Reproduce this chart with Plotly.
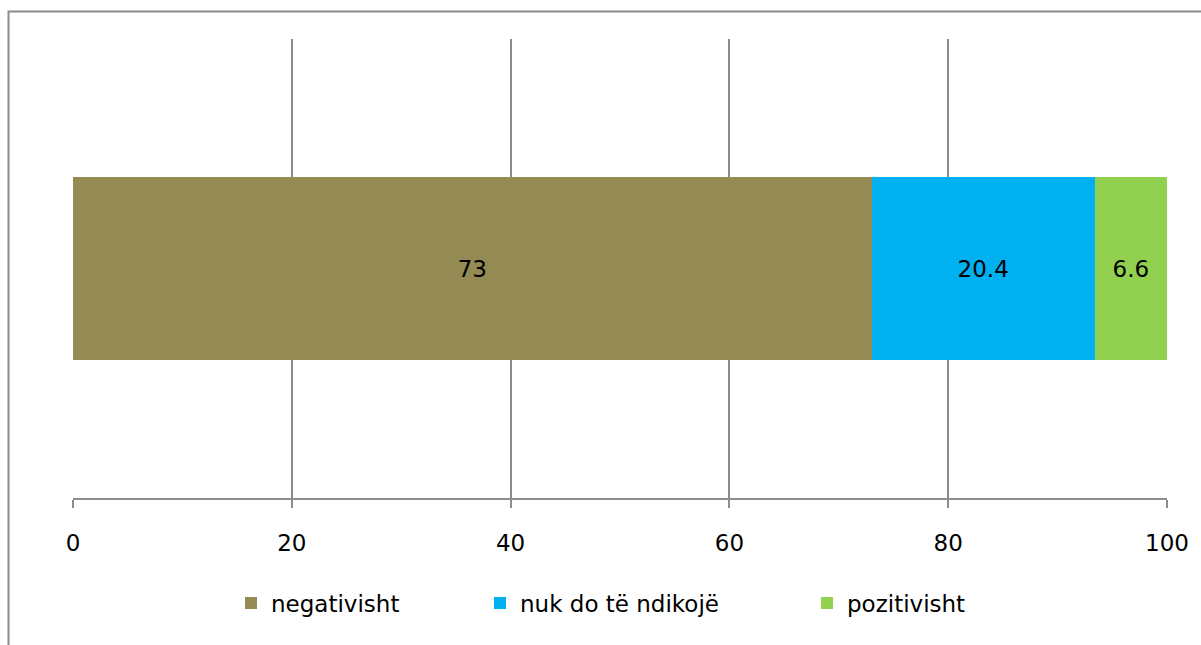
import plotly.graph_objects as go

categories = [""]
series_names = ["negativisht", "nuk do të ndikojë", "pozitivisht"]
negativisht = [73]
nuk_do = [20.4]
pozitivisht = [6.6]
colors = ["#948A54", "#00B0F0", "#92D050"]
tick_vals = [0, 20, 40, 60, 80, 100]

FONT = "'DejaVu Sans', sans-serif"
FS = 23

W, H = 1201, 645
L, R, T, B = 73, 34, 39, 147
pw, ph = W - L - R, H - T - B

# legend text start positions (px) for each entry
legend_text_px = [269, 518, 845]

fig = go.Figure()
for i, (name, vals, col) in enumerate(zip(series_names, [negativisht, nuk_do, pozitivisht], colors)):
    fig.add_trace(go.Bar(
        y=categories, x=vals, name=name, orientation="h",
        marker=dict(color=col, line=dict(width=0)),
        width=0.4,
        text=[str(v) for v in vals], textposition="inside",
        insidetextanchor="middle",
        textfont=dict(color="black", size=FS, family=FONT),
        legend="legend" if i == 0 else f"legend{i+1}",
    ))

legends = {}
for i, tx in enumerate(legend_text_px):
    key = "legend" if i == 0 else f"legend{i+1}"
    legends[key] = dict(orientation="h", x=(tx - 38 - L) / pw, xanchor="left",
                        y=(498 - 603) / ph, yanchor="middle",
                        font=dict(size=FS, family=FONT, color="black"),
                        bgcolor="rgba(0,0,0,0)")

fig.update_layout(
    width=W, height=H,
    barmode="stack",
    margin=dict(l=L, r=R, t=T, b=B),
    plot_bgcolor="white", paper_bgcolor="white",
    font=dict(family=FONT, size=FS, color="black"),
    xaxis=dict(range=[0, 100], tickvals=tick_vals, showgrid=True,
               gridcolor="#8C8C8C", gridwidth=1.5, showline=True,
               linecolor="#8C8C8C", linewidth=1.5, ticks="outside",
               ticklen=8, tickcolor="#8C8C8C", tickwidth=1.5,
               tickfont=dict(size=FS), zeroline=False,
               ticklabelstandoff=16),
    yaxis=dict(range=[-0.5, 0.5], showticklabels=False, showgrid=False,
               zeroline=False, showline=False),
    showlegend=True,
    **legends,
)
fig.add_shape(type="rect", xref="paper", yref="paper",
              x0=(8.5 - L) / pw, x1=(1220 - L) / pw,
              y0=(498 - 660) / ph, y1=1 + (T - 11.5) / ph,
              line=dict(color="#8C8C8C", width=2), layer="below")

fig.write_html("out.html", config={"displayModeBar": False},
               post_script="document.body.style.margin='0px';")
